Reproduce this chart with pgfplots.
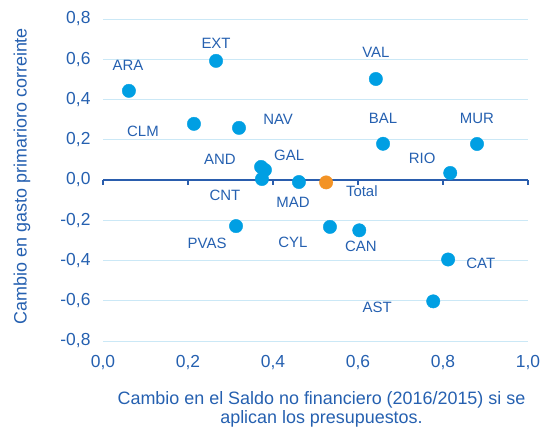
\documentclass[border=0pt]{standalone}
\usepackage{fontspec}
\setmainfont{Liberation Sans}
\usepackage{pgfplots}
\pgfplotsset{compat=1.18}
\usepackage{pgfplotstable}

\definecolor{txtblue}{HTML}{2560B0}
\definecolor{dotblue}{HTML}{009FE3}
\definecolor{dotorange}{HTML}{F39325}
\definecolor{gridblue}{HTML}{CBE8F6}
\definecolor{zeroblue}{HTML}{2A5DAD}

% x y = point, lx ly = where its label sits
\pgfplotstableread{
x      y       lx     ly      name
0.061  0.443   0.059  0.571   ARA
0.266  0.592   0.266  0.681   EXT
0.214  0.279   0.094  0.243   CLM
0.320  0.259   0.412  0.303   NAV
0.372  0.065   0.275  0.104   AND
0.381  0.050   0.438  0.124   GAL
0.374  0.005   0.287  -0.075  CNT
0.461  -0.010  0.447  -0.109  MAD
0.642  0.502   0.642  0.636   VAL
0.659  0.180   0.659  0.308   BAL
0.880  0.179   0.880  0.308   MUR
0.817  0.035   0.751  0.109   RIO
0.313  -0.229  0.245  -0.313  PVAS
0.534  -0.233  0.447  -0.308  CYL
0.603  -0.250  0.607  -0.328  CAN
0.812  -0.395  0.889  -0.412  CAT
0.777  -0.603  0.645  -0.631  AST
}\regiones

\pgfplotstableread{
x      y       lx     ly      name
0.525  -0.012  0.609  -0.055  Total
}\total

\begin{document}
\begin{tikzpicture}
\path[use as bounding box] (-103bp,-86bp) rectangle (440bp,341bp);
\begin{axis}[
  scale only axis,
  width=425bp, height=322bp,
  xmin=0, xmax=1, ymin=-0.8, ymax=0.8,
  xtick={0,0.2,0.4,0.6,0.8,1},
  ytick={-0.8,-0.6,-0.4,-0.2,0,0.2,0.4,0.6,0.8},
  axis line style={draw=none},
  major tick length=0,
  ymajorgrids,
  grid style={gridblue, line width=1pt},
  extra y ticks={0},
  extra y tick labels={},
  extra y tick style={grid style={zeroblue, line width=2.2pt}},
  ticklabel style={font=\fontsize{17.5}{20}\selectfont, text=txtblue},
  xticklabel style={yshift=-11bp},
  yticklabel style={xshift=-9bp},
  /pgf/number format/fixed,
  /pgf/number format/fixed zerofill,
  /pgf/number format/precision=1,
  /pgf/number format/use comma,
  /pgf/number format/assume math mode=true,
  xlabel={Cambio en el Saldo no financiero (2016/2015) si se\\aplican los presupuestos.},
  xlabel style={at={(axis description cs:0.5,0)}, anchor=north, yshift=-47bp,
    xshift=6bp, align=center, font=\fontsize{18}{19}\selectfont, text=txtblue},
  ylabel={Cambio en gasto primarioro correinte},
  ylabel style={at={(axis description cs:0,0.5)}, anchor=center, yshift=81bp,
    xshift=4bp, font=\fontsize{18}{20}\selectfont, text=txtblue},
  clip=false,
]
\pgfplotsinvokeforeach{0,0.2,0.4,0.6,0.8,1}{
  \draw[zeroblue, line width=1.5pt] (axis cs:#1,0) -- ([yshift=-5bp]axis cs:#1,0);
}
\addplot[only marks, mark=*, mark size=6.7bp, color=dotblue]
  table[x=x, y=y] {\regiones};
\addplot[only marks, mark=*, mark size=6.7bp, color=dotorange]
  table[x=x, y=y] {\total};
\addplot[draw=none, mark=none, nodes near coords, point meta=explicit symbolic,
  nodes near coords style={anchor=center, text=txtblue,
    font=\fontsize{15}{18}\selectfont}]
  table[x=lx, y=ly, meta=name] {\regiones};
\addplot[draw=none, mark=none, nodes near coords, point meta=explicit symbolic,
  nodes near coords style={anchor=center, text=txtblue,
    font=\fontsize{15}{18}\selectfont}]
  table[x=lx, y=ly, meta=name] {\total};
\end{axis}
\end{tikzpicture}
\end{document}
